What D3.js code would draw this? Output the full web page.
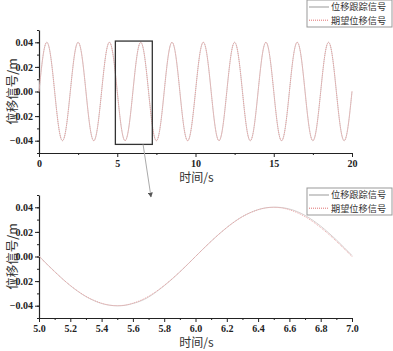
<!DOCTYPE html>
<html lang="zh"><head>
<meta charset="utf-8">
<title>位移信号</title>
<script src="https://cdn.jsdelivr.net/npm/d3@7/dist/d3.min.js"></script>
<style>
body { margin: 0; background: #fff; }
.tick text { font-family: "Liberation Serif", serif; font-weight: bold; font-size: 10px; fill: #222; }
.cjk { font-family: "Noto Sans CJK SC", sans-serif; fill: #333; }
</style>
</head>
<body>
<script type="text/javascript">

var width = 393;
var height = 351;

// top panel: 0..20 s, sampled every 0.25 s
var topTime = d3.range(81).map(function(i){ return i * 0.25; });
var topTracking = [
  0, 0.0283, 0.04, 0.0283, 0, -0.0283, -0.04, -0.0283,
  0, 0.0283, 0.04, 0.0283, 0, -0.0283, -0.04, -0.0283,
  0, 0.0283, 0.04, 0.0283, 0, -0.0283, -0.04, -0.0283,
  0, 0.0283, 0.04, 0.0283, 0, -0.0283, -0.04, -0.0283,
  0, 0.0283, 0.04, 0.0283, 0, -0.0283, -0.04, -0.0283,
  0, 0.0283, 0.04, 0.0283, 0, -0.0283, -0.04, -0.0283,
  0, 0.0283, 0.04, 0.0283, 0, -0.0283, -0.04, -0.0283,
  0, 0.0283, 0.04, 0.0283, 0, -0.0283, -0.04, -0.0283,
  0, 0.0283, 0.04, 0.0283, 0, -0.0283, -0.04, -0.0283,
  0, 0.0283, 0.04, 0.0283, 0, -0.0283, -0.04, -0.0283,
  0
];
var topDesired = [
  0, 0.0283, 0.04, 0.0283, 0, -0.0283, -0.04, -0.0283,
  0, 0.0283, 0.04, 0.0283, 0, -0.0283, -0.04, -0.0283,
  0, 0.0283, 0.04, 0.0283, 0, -0.0283, -0.04, -0.0283,
  0, 0.0283, 0.04, 0.0283, 0, -0.0283, -0.04, -0.0283,
  0, 0.0283, 0.04, 0.0283, 0, -0.0283, -0.04, -0.0283,
  0, 0.0283, 0.04, 0.0283, 0, -0.0283, -0.04, -0.0283,
  0, 0.0283, 0.04, 0.0283, 0, -0.0283, -0.04, -0.0283,
  0, 0.0283, 0.04, 0.0283, 0, -0.0283, -0.04, -0.0283,
  0, 0.0283, 0.04, 0.0283, 0, -0.0283, -0.04, -0.0283,
  0, 0.0283, 0.04, 0.0283, 0, -0.0283, -0.04, -0.0283,
  0
];

// bottom panel: zoom 5..7 s, sampled every 0.05 s
var zoomTime = d3.range(41).map(function(i){ return 5 + i * 0.05; });
var zoomTracking = [
  0.0005, -0.0060, -0.0122, -0.0182, -0.0237, -0.0285, -0.0326, -0.0358, -0.0382, -0.0396,
  -0.0401, -0.0397, -0.0382, -0.0362, -0.0330, -0.0287, -0.0238, -0.0184, -0.0126, -0.0064,
  0.0000, 0.0063, 0.0124, 0.0182, 0.0236, 0.0284, 0.0325, 0.0357, 0.0381, 0.0396,
  0.0401, 0.0398, 0.0386, 0.0365, 0.0334, 0.0294, 0.0247, 0.0193, 0.0135, 0.0072,
  0.0008
];
var zoomDesired = [
  0, -0.0063, -0.0124, -0.0182, -0.0235, -0.0283, -0.0324, -0.0356, -0.0380, -0.0395,
  -0.0400, -0.0395, -0.0380, -0.0356, -0.0324, -0.0283, -0.0235, -0.0182, -0.0124, -0.0063,
  0, 0.0063, 0.0124, 0.0182, 0.0235, 0.0283, 0.0324, 0.0356, 0.0380, 0.0395,
  0.0400, 0.0395, 0.0380, 0.0356, 0.0324, 0.0283, 0.0235, 0.0182, 0.0124, 0.0063,
  0
];

var yTicks = [-0.04, -0.02, 0.00, 0.02, 0.04];
var topXTicks = [0, 5, 10, 15, 20];
var zoomXTicks = [5.0, 5.2, 5.4, 5.6, 5.8, 6.0, 6.2, 6.4, 6.6, 6.8, 7.0];
var legendLabels = ["位移跟踪信号", "期望位移信号"];
var xLabel = "时间/s";
var yLabel = "位移信号/m";
var zoomBox = {x0: 4.88, x1: 7.24, y0: -0.043, y1: 0.041};

var svg = d3.select("body").append("svg")
            .attr("width", width)
            .attr("height", height);

var left = 39, right = 352;
var grayLine = "#d0caca", redLine = "#e89a9a";

function drawPanel(opts){
    var g = svg.append("g");
    var x = d3.scaleLinear().domain(opts.xDomain).range([left, right]);
    var y = d3.scaleLinear().domain([-0.05, 0.05]).range([opts.bottom, opts.top]);

    // minor ticks
    g.append("g")
        .attr("transform", "translate(0," + opts.bottom + ")")
        .call(d3.axisBottom(x).tickValues(opts.xMinor).tickSize(2).tickFormat(""))
        .call(function(a){ a.select(".domain").remove(); a.selectAll("line").attr("stroke", "#222"); });
    g.append("g")
        .attr("transform", "translate(" + left + ",0)")
        .call(d3.axisLeft(y).tickValues(d3.range(-0.05, 0.0501, 0.01)).tickSize(2).tickFormat(""))
        .call(function(a){ a.select(".domain").remove(); a.selectAll("line").attr("stroke", "#222"); });

    var xa = g.append("g")
        .attr("transform", "translate(0," + opts.bottom + ")")
        .call(d3.axisBottom(x).tickValues(opts.xTicks).tickSize(4).tickSizeOuter(0).tickPadding(3)
              .tickFormat(opts.xFormat));
    var ya = g.append("g")
        .attr("transform", "translate(" + left + ",0)")
        .call(d3.axisLeft(y).tickValues(yTicks).tickSize(4).tickSizeOuter(0).tickPadding(2)
              .tickFormat(d3.format(".2f")));
    [xa, ya].forEach(function(a){
        a.select(".domain").attr("stroke", "#222").attr("stroke-width", 1.2);
        a.selectAll(".tick line").attr("stroke", "#222");
    });
    ya.selectAll(".tick text").text(function(d){ return d === 0 ? "0.00" : d3.format(".2f")(d); });

    g.append("text").attr("class", "cjk")
        .attr("x", (left + right) / 2 + 1).attr("y", opts.bottom + 29)
        .attr("text-anchor", "middle").attr("font-size", 12)
        .text(xLabel);
    g.append("text").attr("class", "cjk")
        .attr("transform", "translate(17," + ((opts.top + opts.bottom) / 2) + ") rotate(-90)")
        .attr("text-anchor", "middle").attr("font-size", 12.5)
        .text(yLabel);

    var line = d3.line()
        .x(function(d){ return x(d[0]); })
        .y(function(d){ return y(d[1]); })
        .curve(d3.curveNatural);

    g.append("path")
        .attr("d", line(d3.zip(opts.time, opts.tracking)))
        .attr("fill", "none").attr("stroke", grayLine).attr("stroke-width", 0.9);
    g.append("path")
        .attr("d", line(d3.zip(opts.time, opts.desired)))
        .attr("fill", "none").attr("stroke", redLine).attr("stroke-width", 0.9)
        .attr("stroke-dasharray", "1,1");

    // legend
    var lg = svg.append("g").attr("transform", "translate(307," + opts.legendY + ")");
    lg.append("rect").attr("width", 85).attr("height", 27)
        .attr("fill", "#fff").attr("stroke", "#999").attr("stroke-width", 1);
    legendLabels.forEach(function(t, i){
        var yy = 7 + i * 13.2;
        lg.append("line").attr("x1", 2).attr("x2", 22).attr("y1", yy).attr("y2", yy)
            .attr("stroke", i === 0 ? "#999" : "#e07070").attr("stroke-width", 1)
            .attr("stroke-dasharray", i === 0 ? null : "1,1");
        lg.append("text").attr("class", "cjk")
            .attr("x", 24).attr("y", yy + 3.3).attr("font-size", 9.2)
            .text(t);
    });

    return {x: x, y: y};
}

var topPanel = drawPanel({
    xDomain: [0, 20], top: 30, bottom: 153,
    xTicks: topXTicks, xMinor: [2.5, 7.5, 12.5, 17.5], xFormat: d3.format("d"),
    time: topTime, tracking: topTracking, desired: topDesired, legendY: 0
});

drawPanel({
    xDomain: [5, 7], top: 195, bottom: 318,
    xTicks: zoomXTicks, xMinor: d3.range(5.1, 7, 0.2), xFormat: d3.format(".1f"),
    time: zoomTime, tracking: zoomTracking, desired: zoomDesired, legendY: 188
});

// zoom window and arrow
var bx = topPanel.x, by = topPanel.y;
svg.append("rect")
    .attr("x", bx(zoomBox.x0)).attr("y", by(zoomBox.y1))
    .attr("width", bx(zoomBox.x1) - bx(zoomBox.x0))
    .attr("height", by(zoomBox.y0) - by(zoomBox.y1))
    .attr("fill", "none").attr("stroke", "#333").attr("stroke-width", 1.3);

svg.append("defs").append("marker")
    .attr("id", "ah").attr("viewBox", "0 0 10 10").attr("refX", 9).attr("refY", 5)
    .attr("markerWidth", 5).attr("markerHeight", 5).attr("orient", "auto")
    .append("path").attr("d", "M0,0L10,5L0,10z").attr("fill", "#555");

svg.append("line")
    .attr("x1", bx(6.65)).attr("y1", by(zoomBox.y0))
    .attr("x2", 151).attr("y2", 197)
    .attr("stroke", "#aaa").attr("stroke-width", 1)
    .attr("marker-end", "url(#ah)");

</script>
</body></html>
